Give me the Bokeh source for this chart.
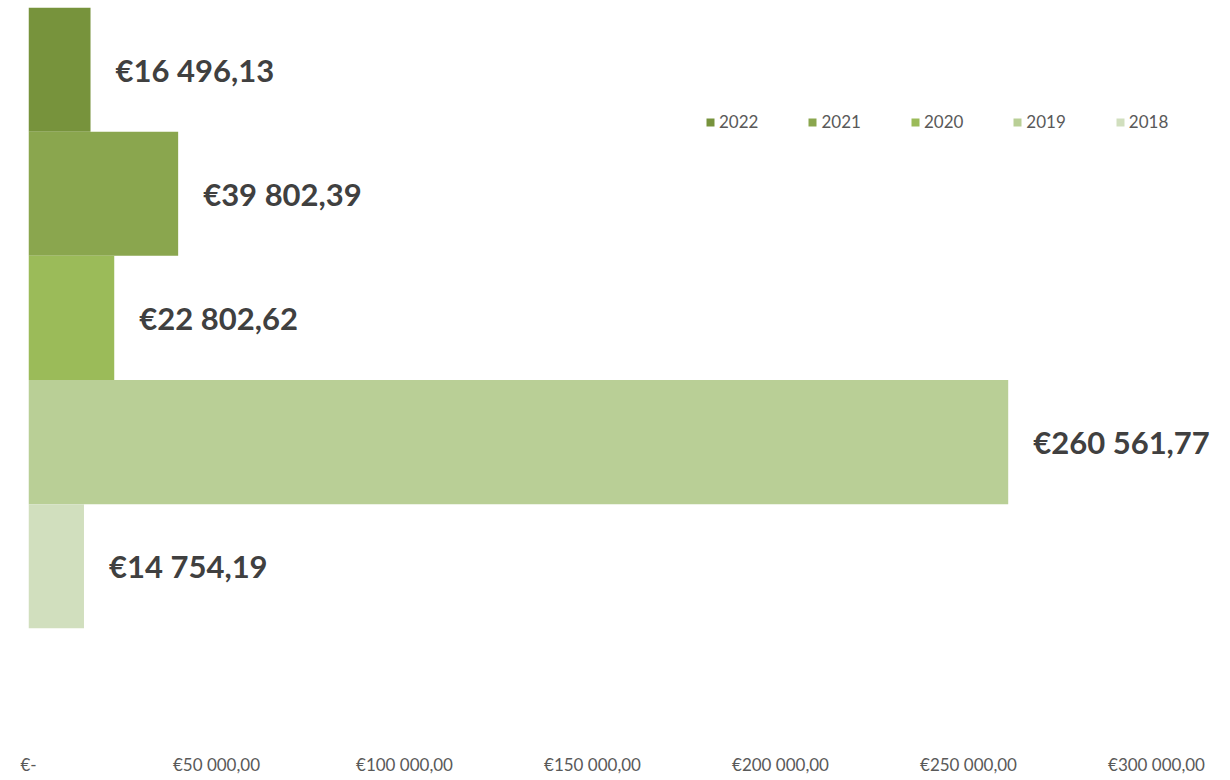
from bokeh.plotting import figure
from bokeh.models import ColumnDataSource, Range1d, FixedTicker, Legend, LegendItem
from bokeh.core.properties import value
from bokeh.embed import file_html
from bokeh.resources import INLINE

years = ["2022", "2021", "2020", "2019", "2018"]
amounts = [16496.13, 39802.39, 22802.62, 260561.77, 14754.19]
amount_labels = ["€16 496,13", "€39 802,39", "€22 802,62", "€260 561,77", "€14 754,19"]
colors = ["#77933C", "#8AA64E", "#9BBB59", "#B9CF96", "#D1DFBE"]
slots = [5, 4, 3, 2, 1]
tick_values = [0, 50000, 100000, 150000, 200000, 250000, 300000]
tick_labels = ["€-", "€50 000,00", "€100 000,00", "€150 000,00",
               "€200 000,00", "€250 000,00", "€300 000,00"]

src = ColumnDataSource(dict(year=years, amount=amounts, label=amount_labels,
                            color=colors, slot=slots))

W, H = 1226, 778
LEFT, TOP, BOTTOM_PAD, RIGHT_PAD = 28, 7, 26, 2
frame_w = W - LEFT - RIGHT_PAD
# 188 px per 50 000 on the reference axis
x_end = frame_w / 188.0 * 50000

p = figure(width=W, height=H, output_backend="svg", toolbar_location=None,
           x_range=Range1d(0, x_end), y_range=Range1d(-0.5, 5.5),
           min_border_left=LEFT, min_border_right=RIGHT_PAD, min_border_top=TOP,
           min_border_bottom=BOTTOM_PAD)
p.outline_line_color = None
p.grid.visible = False
p.yaxis.visible = False

r = p.hbar(y="slot", right="amount", left=0, height=1.0, color="color",
           line_color=None, source=src)

p.text(x="amount", y="slot", text="label", source=src, x_offset=25,
       text_align="left", text_baseline="middle",
       text_font=value("Lato"), text_font_style="bold",
       text_font_size="31px", text_color="#404040")

ax = p.xaxis[0]
ax.ticker = FixedTicker(ticks=tick_values)
ax.major_label_overrides = {v: l for v, l in zip(tick_values, tick_labels)}
ax.axis_line_color = None
ax.major_tick_line_color = None
ax.minor_tick_line_color = None
ax.major_tick_out = 0
ax.major_tick_in = 0
ax.major_label_standoff = 1
ax.major_label_text_font = "Lato"
ax.major_label_text_font_size = "17px"
ax.major_label_text_color = "#595959"

frame_h = H - TOP - BOTTOM_PAD
legend = Legend(items=[LegendItem(label=value(y), renderers=[r], index=i)
                       for i, y in enumerate(years)],
                location=(677, frame_h - 107 - 18), orientation="horizontal",
                glyph_width=10, glyph_height=10, label_height=18,
                label_standoff=4, spacing=49, padding=0, margin=0,
                border_line_color=None, background_fill_alpha=0,
                label_text_font="Lato", label_text_font_size="17px",
                label_text_color="#595959")
p.add_layout(legend, "center")

open("out.html", "w").write(file_html(p, INLINE))
